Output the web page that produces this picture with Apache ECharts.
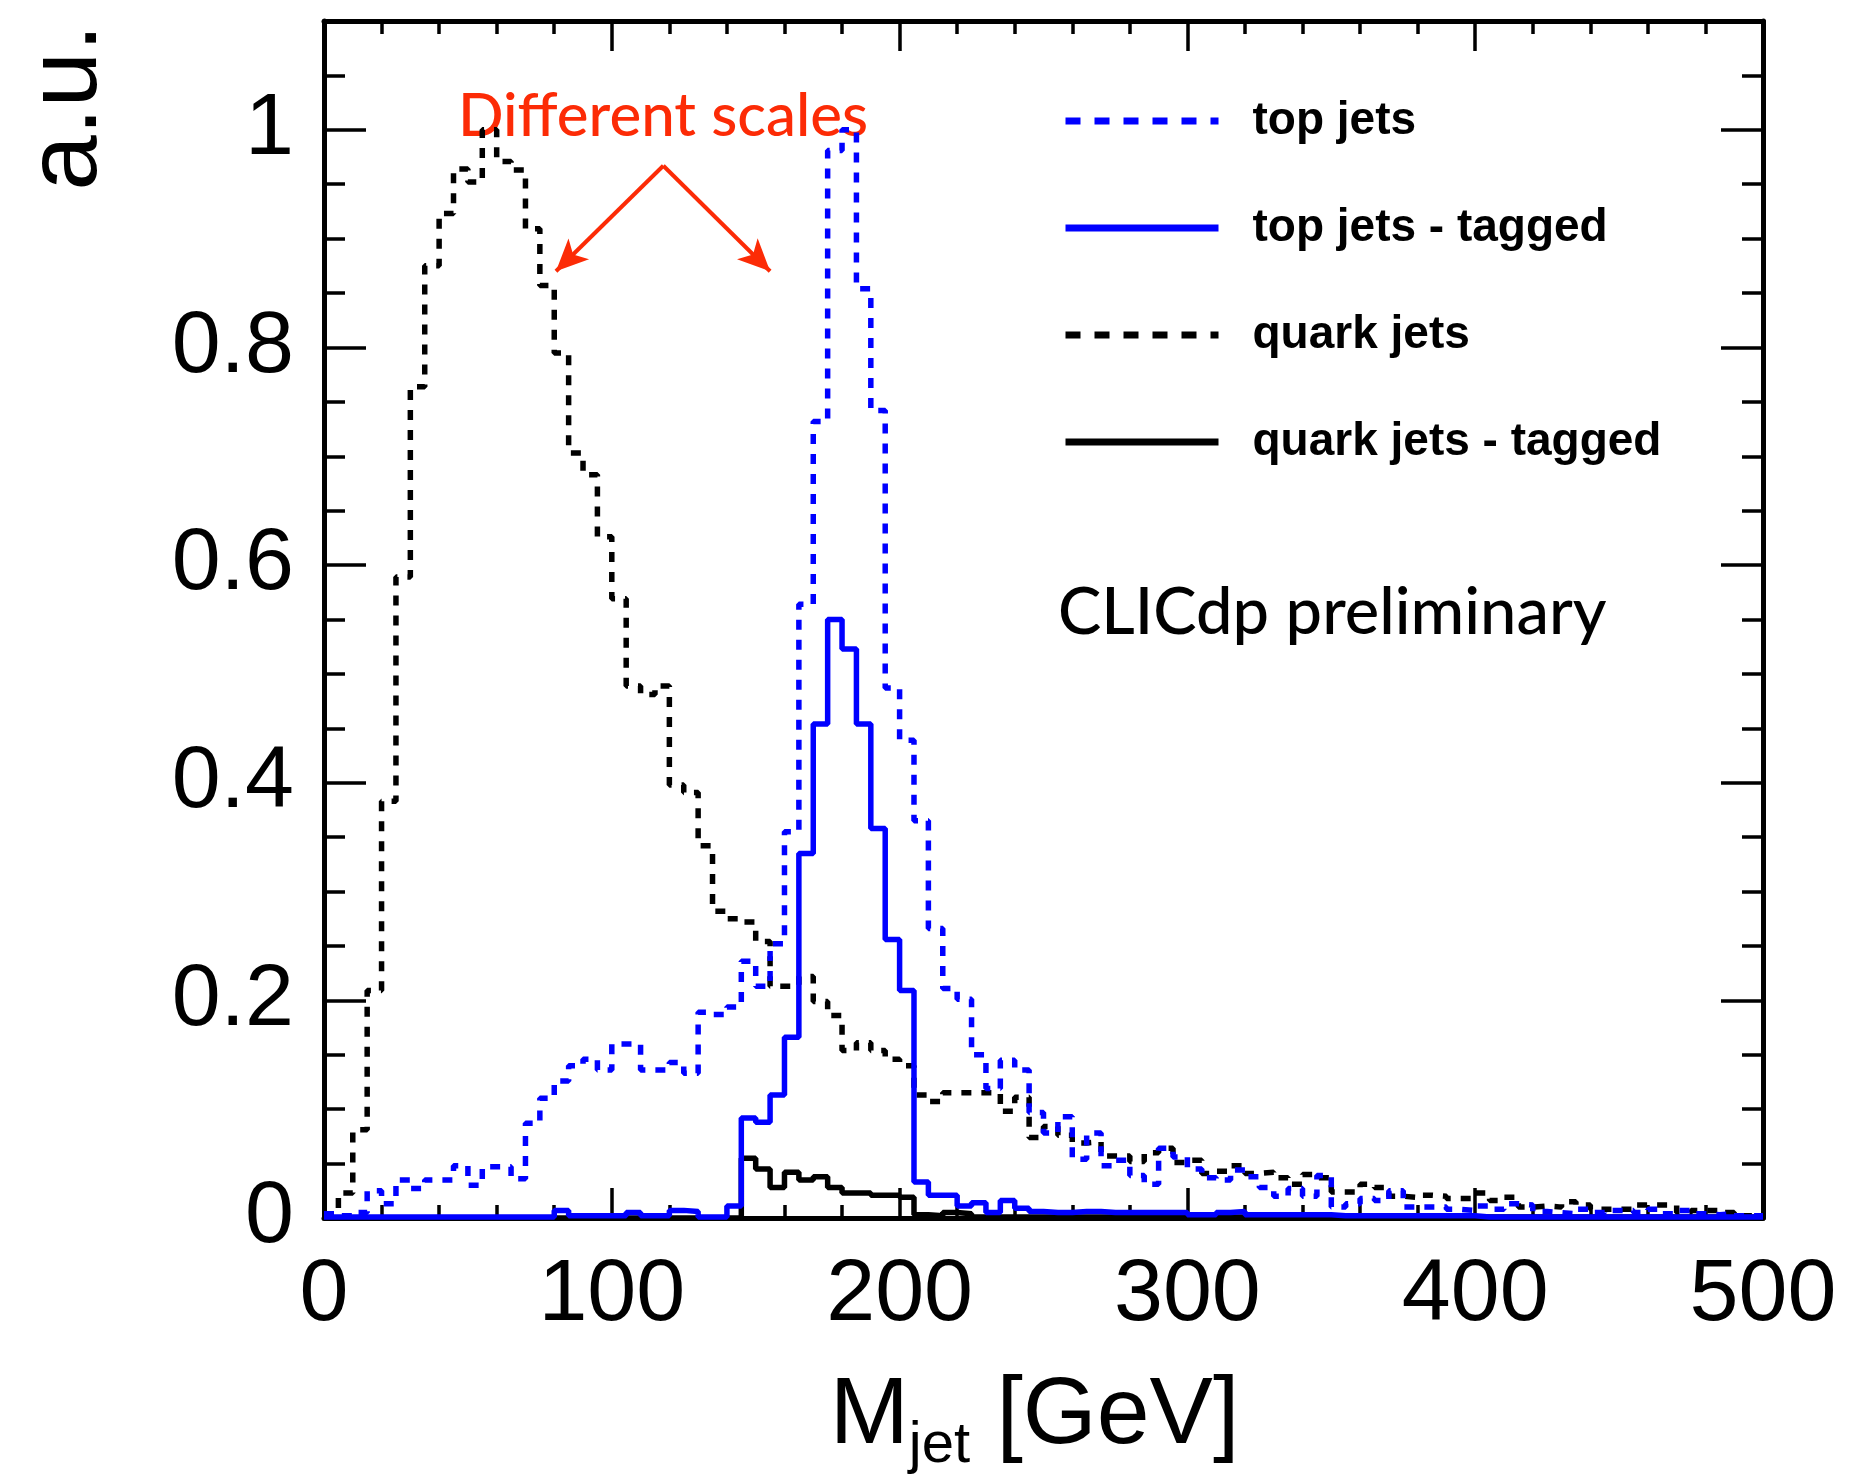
<!DOCTYPE html>
<html>
<head>
<meta charset="utf-8">
<script src="https://cdn.jsdelivr.net/npm/echarts@6/dist/echarts.min.js"></script>
<style>
html,body{margin:0;padding:0;background:#ffffff;}
#chart{width:1850px;height:1484px;}
</style>
</head>
<body>
<div id="chart"></div>
<script>
// ---------- data (5 GeV bins, 0 - 500 GeV) ----------
const binStart = [
  0,5,10,15,20,25,30,35,40,45,50,55,60,65,70,75,80,85,90,95,
  100,105,110,115,120,125,130,135,140,145,150,155,160,165,170,175,180,185,190,195,
  200,205,210,215,220,225,230,235,240,245,250,255,260,265,270,275,280,285,290,295,
  300,305,310,315,320,325,330,335,340,345,350,355,360,365,370,375,380,385,390,395,
  400,405,410,415,420,425,430,435,440,445,450,455,460,465,470,475,480,485,490,495
];
const binEnd = 500;

const topJets = [
  0.004,0.002,0.005,0.025,0.013,0.035,0.027,0.035,0.035,0.048,
  0.030,0.047,0.047,0.036,0.087,0.110,0.126,0.140,0.146,0.136,
  0.160,0.160,0.136,0.136,0.143,0.133,0.189,0.187,0.194,0.236,
  0.213,0.252,0.355,0.564,0.732,0.981,1.000,0.854,0.742,0.487,
  0.439,0.365,0.266,0.211,0.201,0.150,0.119,0.145,0.136,0.097,
  0.078,0.093,0.054,0.078,0.048,0.053,0.039,0.031,0.064,0.056,
  0.045,0.037,0.035,0.044,0.038,0.028,0.020,0.027,0.020,0.039,
  0.010,0.013,0.018,0.016,0.025,0.010,0.010,0.010,0.008,0.007,
  0.011,0.008,0.013,0.012,0.006,0.005,0.004,0.008,0.005,0.007,
  0.007,0.005,0.008,0.004,0.007,0.004,0.003,0.004,0.002,0.002
];

const topJetsTagged = [
  0.001,0.001,0.001,0.001,0.001,0.001,0.001,0.001,0.001,0.001,
  0.001,0.001,0.001,0.001,0.001,0.001,0.007,0.002,0.002,0.002,
  0.002,0.005,0.002,0.002,0.007,0.006,0.001,0.001,0.011,0.092,
  0.088,0.113,0.166,0.335,0.454,0.550,0.523,0.454,0.358,0.256,
  0.209,0.033,0.021,0.021,0.011,0.014,0.005,0.016,0.009,0.006,
  0.005,0.005,0.006,0.006,0.005,0.005,0.005,0.005,0.005,0.005,
  0.003,0.003,0.005,0.006,0.003,0.003,0.003,0.003,0.003,0.003,
  0.002,0.002,0.002,0.002,0.002,0.002,0.002,0.002,0.002,0.002,
  0.001,0.001,0.001,0.001,0.001,0.001,0.001,0.001,0.001,0.001,
  0.001,0.001,0.001,0.001,0.001,0.001,0.001,0.001,0.001,0.001
];

const quarkJets = [
  0.004,0.023,0.081,0.209,0.383,0.589,0.764,0.875,0.923,0.964,
  0.952,1.000,0.971,0.963,0.909,0.857,0.795,0.703,0.683,0.626,
  0.569,0.489,0.481,0.489,0.398,0.391,0.342,0.282,0.275,0.272,
  0.254,0.213,0.213,0.222,0.199,0.186,0.154,0.161,0.154,0.146,
  0.140,0.113,0.107,0.115,0.115,0.115,0.115,0.098,0.111,0.074,
  0.084,0.076,0.069,0.070,0.057,0.057,0.052,0.060,0.064,0.051,
  0.053,0.041,0.043,0.048,0.041,0.042,0.037,0.031,0.040,0.037,
  0.024,0.024,0.031,0.028,0.020,0.019,0.021,0.020,0.018,0.018,
  0.023,0.016,0.019,0.010,0.011,0.010,0.015,0.012,0.008,0.008,
  0.008,0.012,0.012,0.012,0.005,0.007,0.007,0.005,0.002,0.002
];

const quarkJetsTagged = [
  0,0,0,0,0,0,0,0,0,0,
  0,0,0,0,0,0,0,0,0,0,
  0,0,0,0,0,0,0,0,0,0.055,
  0.045,0.028,0.042,0.035,0.038,0.028,0.023,0.023,0.021,0.021,
  0.019,0.003,0.002,0.005,0.004,0.001,0.001,0.001,0.001,0.001,
  0.001,0.001,0.001,0.001,0.001,0.001,0.001,0.001,0.001,0.001,
  0.001,0.001,0.001,0.001,0.001,0.001,0.001,0.001,0.001,0.001,
  0.001,0.001,0.001,0.001,0.001,0.001,0.001,0.001,0.001,0.001,
  0.001,0.001,0.001,0.001,0.001,0.001,0.001,0.001,0.001,0.001,
  0.001,0.001,0.001,0.001,0.001,0.001,0.001,0.001,0.001,0.001
];

const seriesNames = ['top jets', 'top jets - tagged', 'quark jets', 'quark jets - tagged'];
const xTicks = [0, 100, 200, 300, 400, 500];
const yTicks = [0, 0.2, 0.4, 0.6, 0.8, 1];

// annotation arrows (data coordinates: [GeV, a.u.])
const arrowApex = [117.9, 0.967];
const arrowLeftEnd = [80.6, 0.870];
const arrowRightEnd = [155.0, 0.870];

// ---------- helpers ----------
function histPoints(values) {
  const pts = binStart.map((x, i) => [x, values[i]]);
  pts.push([binEnd, values[values.length - 1]]);
  return pts;
}

const FONT = "'Liberation Sans', Arial, Helvetica, sans-serif";
const BLUE = '#0000ff';
const BLACK = '#000000';
const RED = '#fc2b06';
const AXW = 5;
const TKW = 3.5;

const chart = echarts.init(document.getElementById('chart'), null, {renderer: 'canvas'});

function hist(name, values, color, dashed, z) {
  return {
    name: name,
    type: 'line',
    step: 'end',
    xAxisIndex: 0,
    yAxisIndex: 0,
    data: histPoints(values),
    symbol: 'none',
    showSymbol: false,
    z: z,
    animation: false,
    lineStyle: {color: color, width: 5.5, type: dashed ? [10, 10] : 'solid'},
    itemStyle: {color: color}
  };
}

const series = [
  hist(seriesNames[2], quarkJets, BLACK, true, 2),
  hist(seriesNames[3], quarkJetsTagged, BLACK, false, 3),
  hist(seriesNames[0], topJets, BLUE, true, 4),
  hist(seriesNames[1], topJetsTagged, BLUE, false, 5)
];

series[0].markLine = {
  silent: true,
  animation: false,
  symbol: ['none', 'arrow'],
  label: {show: false},
  emphasis: {disabled: true},
  lineStyle: {color: RED, width: 4, type: 'solid'},
  itemStyle: {color: RED},
  data: [
    [{coord: arrowApex, symbol: 'none'}, {coord: arrowLeftEnd, symbol: 'arrow', symbolSize: [22, 32]}],
    [{coord: arrowApex, symbol: 'none'}, {coord: arrowRightEnd, symbol: 'arrow', symbolSize: [22, 32]}]
  ]
};

const tickLine = {color: BLACK, width: TKW};

const option = {
  backgroundColor: '#ffffff',
  animation: false,
  grid: {left: 324, top: 21, width: 1439, height: 1197, containLabel: false, outerBoundsMode: 'none'},
  legend: {
    orient: 'vertical',
    left: 1057,
    top: 91,
    itemWidth: 153,
    itemHeight: 50,
    itemGap: 57,
    selectedMode: false,
    lineStyle: {width: 7},
    itemStyle: {opacity: 0},
    textStyle: {fontFamily: FONT, fontSize: 46, fontWeight: 'bold', color: BLACK, lineHeight: 50, padding: [0, 0, 0, 29]},
    data: [
      {name: seriesNames[0], lineStyle: {type: [15, 14]}},
      {name: seriesNames[1]},
      {name: seriesNames[2], lineStyle: {type: [15, 14]}},
      {name: seriesNames[3]}
    ]
  },
  xAxis: [
    {
      type: 'value', position: 'bottom', min: xTicks[0], max: xTicks[xTicks.length - 1], interval: xTicks[1] - xTicks[0],
      axisLine: {show: true, onZero: false, lineStyle: {color: BLACK, width: AXW}},
      axisTick: {show: true, inside: true, length: 30, lineStyle: tickLine},
      minorTick: {show: true, splitNumber: 5, length: 13, lineStyle: tickLine},
      splitLine: {show: false}, minorSplitLine: {show: false},
      axisLabel: {show: true, margin: 34, fontSize: 88, fontFamily: FONT, color: BLACK},
      name: '{m|M}{s|jet}{m| [GeV]}',
      nameLocation: 'middle',
      nameGap: 141,
      nameTextStyle: {
        color: BLACK,
        padding: [0, 18, 0, 0],
        rich: {
          m: {fontFamily: FONT, fontSize: 95, color: BLACK},
          s: {fontFamily: FONT, fontSize: 58, color: BLACK, padding: [58, 0, 0, 0]}
        }
      }
    },
    {
      type: 'value', position: 'top', min: xTicks[0], max: xTicks[xTicks.length - 1], interval: xTicks[1] - xTicks[0],
      axisLine: {show: true, onZero: false, lineStyle: {color: BLACK, width: AXW}},
      axisTick: {show: true, inside: true, length: 30, lineStyle: tickLine},
      minorTick: {show: true, splitNumber: 5, length: 13, lineStyle: tickLine},
      splitLine: {show: false}, axisLabel: {show: false}
    }
  ],
  yAxis: [
    {
      type: 'value', position: 'left', min: 0, max: 1.1, interval: yTicks[1] - yTicks[0],
      axisLine: {show: true, onZero: false, lineStyle: {color: BLACK, width: AXW}},
      axisTick: {show: true, inside: true, length: 42, lineStyle: tickLine},
      splitLine: {show: false},
      axisLabel: {show: true, margin: 30, fontSize: 88, fontFamily: FONT, color: BLACK, showMaxLabel: false}
    },
    {
      type: 'value', position: 'left', min: 0, max: 1.1, interval: 0.05,
      axisLine: {show: false, onZero: false},
      axisTick: {show: true, inside: true, length: 21, lineStyle: tickLine},
      splitLine: {show: false}, axisLabel: {show: false}
    },
    {
      type: 'value', position: 'right', min: 0, max: 1.1, interval: yTicks[1] - yTicks[0],
      axisLine: {show: true, onZero: false, lineStyle: {color: BLACK, width: AXW}},
      axisTick: {show: true, inside: true, length: 42, lineStyle: tickLine},
      splitLine: {show: false}, axisLabel: {show: false}
    },
    {
      type: 'value', position: 'right', min: 0, max: 1.1, interval: 0.05,
      axisLine: {show: false, onZero: false},
      axisTick: {show: true, inside: true, length: 21, lineStyle: tickLine},
      splitLine: {show: false}, axisLabel: {show: false}
    }
  ],
  graphic: {
    elements: [
      {
        // y-axis title, reads bottom-to-top, top-aligned with the axis end
        type: 'text', x: 118, y: 24, rotation: Math.PI / 2, silent: true,
        style: {text: 'a.u.', fill: BLACK, font: "100px 'Liberation Sans', Arial, sans-serif", textAlign: 'right', textVerticalAlign: 'bottom'}
      },
      {
        type: 'text', x: 663, y: 117, silent: true,
        style: {text: 'Different scales', fill: RED, font: "500 60px Lato, 'Noto Sans', sans-serif", textAlign: 'center', textVerticalAlign: 'middle'}
      },
      {
        type: 'text', x: 1058, y: 613, silent: true,
        style: {text: 'CLICdp preliminary', fill: BLACK, font: "500 65px Lato, 'Noto Sans', sans-serif", textAlign: 'left', textVerticalAlign: 'middle'}
      }
    ]
  },
  series: series
};

chart.setOption(option);
</script>
</body>
</html>
